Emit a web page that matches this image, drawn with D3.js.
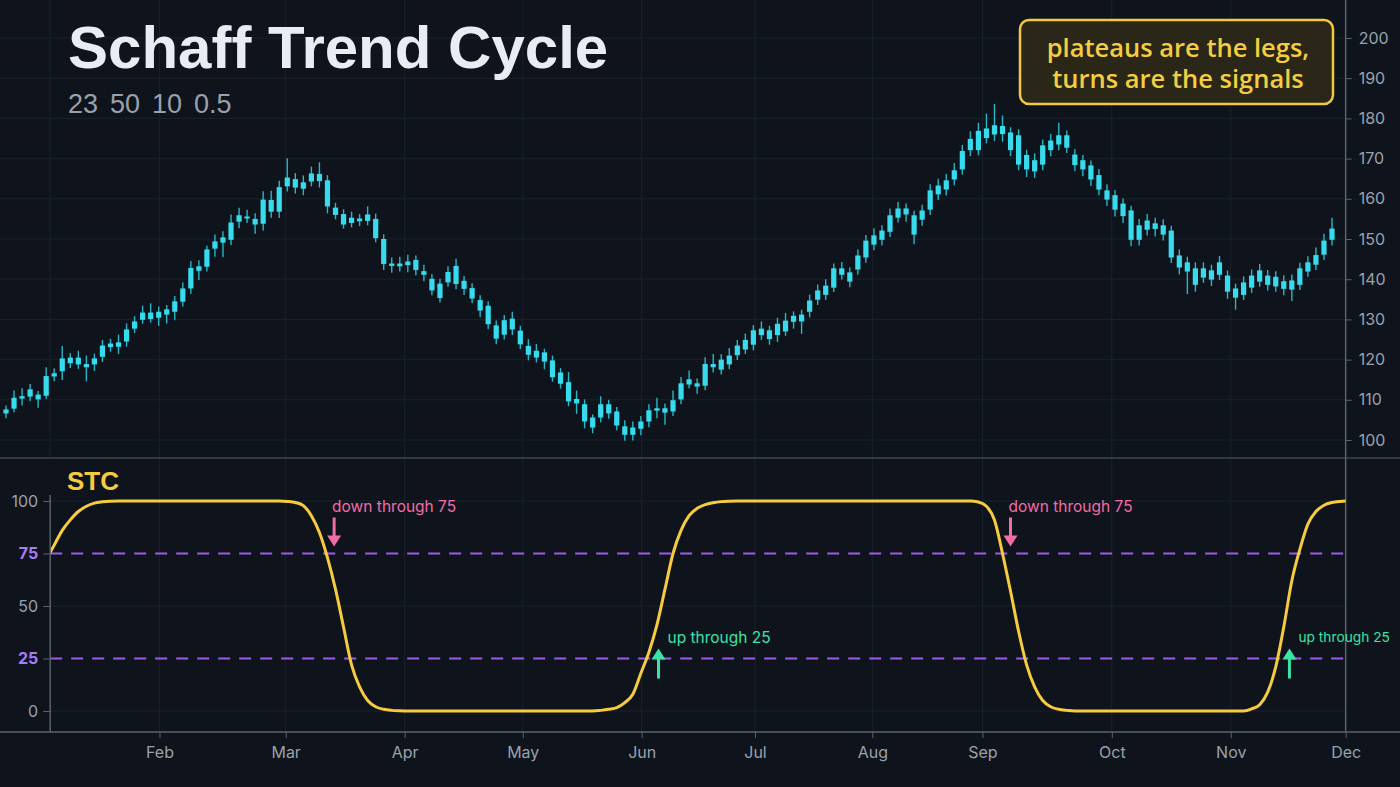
<!DOCTYPE html>
<html><head><meta charset="utf-8">
<script src="https://cdn.jsdelivr.net/npm/d3@7"></script>
<style>html,body{margin:0;padding:0;background:#0f141c;}svg{display:block;}</style>
</head><body>
<svg id="chart" width="1400" height="787"></svg>
<script>
// ---------- DATA ----------
const openP = [
106.6,107.8,110.3,110.8,111.3,111.0,115.8,117.1,119.1,120.5,
118.9,118.8,120.7,123.1,123.2,124.5,127.7,129.9,130.1,130.4,
131.2,131.9,134.4,137.7,142.1,143.1,147.6,149.1,149.8,154.3,
155.1,155.0,153.8,159.7,156.8,163.1,162.8,164.1,164.3,166.2,
164.6,157.8,156.2,154.0,155.1,154.5,155.0,150.0,143.9,143.2,
143.5,144.8,142.0,140.1,138.9,139.2,143.3,139.6,137.8,134.8,
133.4,128.5,126.2,130.2,127.2,123.4,122.2,121.8,119.8,116.8,
114.4,110.2,108.9,105.6,105.6,106.6,107.1,103.4,101.3,102.8,
104.6,107.3,106.8,107.1,110.1,113.8,114.1,113.5,118.1,117.5,
118.8,121.1,122.5,123.7,126.1,127.3,126.1,127.0,129.4,131.2,
131.9,134.9,136.1,137.9,142.7,141.7,142.4,145.4,148.6,149.8,
151.8,155.3,157.6,155.9,154.8,157.3,161.1,162.3,164.8,167.3,
172.1,172.1,175.1,176.0,178.1,176.5,175.8,170.9,166.8,168.5,
172.1,173.5,175.8,171.0,169.6,168.3,165.9,162.1,160.9,158.8,
157.1,149.8,152.3,153.9,151.1,152.1,145.9,144.2,142.7,140.4,
142.2,141.1,140.9,137.7,136.1,137.9,139.4,140.9,138.2,139.5,
137.4,138.6,141.9,143.6,146.1,149.8];
const closeP = [
107.6,110.5,110.9,112.6,110.1,115.9,116.6,120.3,120.5,118.8,
118.1,120.3,123.5,124.0,124.3,127.5,129.5,131.7,131.7,131.9,
132.5,134.5,137.7,142.8,143.2,147.4,149.4,150.4,154.1,155.9,
155.6,153.6,159.8,156.8,162.9,165.3,164.9,162.5,166.3,164.4,
158.1,156.0,153.6,155.3,154.4,156.1,150.2,143.8,143.3,143.9,
144.4,142.3,141.1,137.2,135.3,141.8,138.8,137.6,135.2,132.2,
128.8,125.2,129.8,127.5,123.8,121.2,120.5,119.5,115.6,114.0,
109.6,109.1,104.6,103.1,108.9,108.9,103.6,101.3,103.1,104.6,
107.4,107.9,107.9,109.9,114.1,115.1,113.3,118.9,118.9,120.0,
121.0,123.5,124.9,127.3,127.7,125.1,128.9,129.7,130.9,129.5,
134.7,137.2,138.4,142.7,141.1,139.4,145.9,149.6,150.9,152.1,
155.9,157.6,156.1,151.1,157.1,162.1,163.3,164.6,167.1,171.9,
174.9,176.9,177.5,178.3,176.1,172.1,168.5,167.3,169.6,173.3,
174.5,175.8,172.7,168.4,167.3,164.8,162.3,159.8,157.3,155.7,
149.8,153.4,154.6,152.5,153.4,145.4,142.9,141.9,138.6,142.7,
139.9,144.2,136.9,135.4,139.2,140.9,142.2,138.6,140.6,137.6,
139.7,142.7,144.2,146.0,149.6,152.6];
const highP = [
108.6,112.3,112.9,113.9,112.2,118.1,117.8,123.4,121.6,122.2,
121.0,121.5,124.9,125.2,126.2,129.0,130.8,133.4,134.0,133.2,
133.6,135.8,139.2,144.5,144.7,148.3,151.1,151.9,156.1,157.8,
157.3,156.4,161.9,162.0,164.5,170.1,166.4,165.8,168.0,169.1,
165.9,159.0,157.4,156.8,156.2,158.1,156.3,151.2,145.4,145.6,
146.1,145.9,143.6,141.3,140.1,143.2,145.1,140.8,139.0,136.0,
134.5,129.7,131.1,131.9,128.4,125.1,123.9,122.7,121.0,117.9,
116.9,112.3,110.1,106.4,110.9,110.0,108.2,104.9,104.6,106.0,
108.9,110.5,109.1,112.3,115.7,117.3,115.3,120.6,121.4,121.3,
122.9,124.9,126.5,128.6,129.5,128.4,130.4,131.6,132.0,132.4,
136.2,138.7,140.0,143.9,144.3,142.9,147.4,151.0,152.7,153.4,
157.6,159.2,158.8,157.0,158.5,163.6,165.0,166.2,168.9,173.4,
176.8,178.9,181.2,183.6,180.7,177.8,177.3,172.2,171.3,174.7,
176.1,178.9,177.0,172.4,170.9,169.5,167.4,163.6,162.2,160.1,
158.3,155.0,156.2,155.3,154.9,153.3,147.4,145.6,144.2,144.2,
143.6,145.8,142.2,138.9,140.7,142.4,143.8,142.3,142.0,141.0,
141.2,144.1,145.7,147.9,151.3,155.3];
const lowP = [
105.4,106.9,108.6,109.7,108.0,110.2,114.6,114.9,117.9,117.7,
114.6,117.2,119.4,122.0,121.4,123.2,126.6,128.9,129.2,128.4,
129.0,129.8,133.2,136.4,139.8,141.9,145.6,145.5,148.5,152.7,
154.0,151.3,152.1,155.3,155.2,161.8,161.3,160.9,163.1,162.8,
156.4,154.9,152.6,152.9,153.2,153.4,149.2,142.3,141.6,141.9,
141.7,141.0,139.5,136.0,134.2,138.1,137.5,136.1,134.1,130.6,
127.6,123.8,125.0,126.1,122.6,119.8,119.3,117.6,114.5,112.8,
108.4,106.5,102.9,101.7,104.4,105.3,102.4,99.8,99.9,101.2,
103.2,105.4,103.8,106.0,108.9,112.9,111.5,112.4,116.8,116.3,
117.6,119.9,121.4,122.3,124.9,123.7,124.4,125.9,127.7,126.4,
130.5,133.6,134.8,136.8,139.9,138.0,141.1,144.1,147.2,148.4,
150.5,154.1,154.3,148.7,153.3,156.0,159.7,160.8,163.4,166.0,
170.6,170.8,173.8,174.4,174.2,170.6,167.1,165.4,165.2,167.1,
170.6,172.1,171.4,166.9,165.6,163.2,160.9,158.2,155.6,154.0,
148.2,148.4,150.9,150.6,149.6,144.0,141.2,136.3,136.9,139.1,
138.3,139.8,135.1,132.4,134.8,136.6,138.1,137.2,136.9,136.0,
134.6,137.3,140.6,142.3,144.8,148.4];

// STC values, first value belongs to candle index stcStart
const stcStart = 5;
const stcValues = [
72,79,86,91,95,97.5,99,99.6,99.9,
100,100,100,100,100,100,100,100,100,100,100,100,100,100,100,100,100,100,100,100,100,
99.8,99.3,97.8,93,85,73,58,40,22,11.5,5,2,0.8,0.3,0.1,
0,0,0,0,0,0,0,0,0,0,0,0,0,0,0,0,0,0,0,0,0,0,0,0,
0.3,0.8,1.6,4,8,18,28,41,58,75,86,93,96.5,98.3,99.2,99.7,99.9,
100,100,100,100,100,100,100,100,100,100,100,100,100,100,100,100,100,100,100,100,100,100,100,100,100,100,100,100,100,100,
99.5,97.5,91,75,57,38,22,11.5,5,2,0.8,0.3,
0,0,0,0,0,0,0,0,0,0,0,0,0,0,0,0,0,0,0,0,0,0,
1,3,9,21,40,62,77,89,95,98,99.3,99.8,100];

const monthLabels = ["Feb","Mar","Apr","May","Jun","Jul","Aug","Sep","Oct","Nov","Dec"];
const monthIdx = [19.1,34.8,49.6,64.3,79.1,93.2,107.8,121.5,137.6,152.4,166.7];
const priceTicks = [100,110,120,130,140,150,160,170,180,190,200];
const stcTicks = [0,25,50,75,100];
const stcLevels = [25,75];
const titleText = "Schaff Trend Cycle";
const subtitleText = "23 50 10 0.5";
const noteLines = ["plateaus are the legs,","turns are the signals"];
const signalText = {down:"down through 75", up:"up through 25"};

// ---------- CHART ----------
const W = 1400, H = 787;
const C = {bg:"#0f141c", grid:"#1a212b", axis:"#5a626e", tick:"#98a1ad",
  body:"#36dcee", wick:"#27b6c6", stc:"#f6cc3e", level:"#9d5ce8", levelTxt:"#a77cf4",
  pink:"#f26ca7", green:"#3be3a6", yellow:"#f5cc3f"};
const tickFont = "16px Inter, 'Noto Sans', sans-serif";
const svg = d3.select("#chart");
svg.append("rect").attr("width",W).attr("height",H).attr("fill",C.bg);

const N = closeP.length;
const x = d3.scaleLinear().domain([0, N-1]).range([6, 1332]);
const yP = d3.scaleLinear().domain([100,200]).range([440,38]);
const yS = d3.scaleLinear().domain([0,100]).range([711,501]);
const xLeft = x(stcStart + 0.5);
const xRight = x(monthIdx[monthIdx.length-1]);
const axisY = 732, sepY = 458;

// grid
const g = svg.append("g");
g.selectAll(".hg").data(priceTicks).join("line")
  .attr("x1",0).attr("x2",xRight).attr("y1",d=>yP(d)).attr("y2",d=>yP(d))
  .attr("stroke",C.grid).attr("stroke-width",1);
g.selectAll(".vg").data(monthIdx.slice(0,-1)).join("line")
  .attr("x1",d=>x(d)).attr("x2",d=>x(d)).attr("y1",0).attr("y2",axisY)
  .attr("stroke",C.grid).attr("stroke-width",1);
g.append("line").attr("x1",xLeft).attr("x2",xLeft).attr("y1",0).attr("y2",sepY)
  .attr("stroke",C.grid);
g.selectAll(".sg").data([0,50,100]).join("line")
  .attr("x1",xLeft).attr("x2",xRight).attr("y1",d=>yS(d)).attr("y2",d=>yS(d))
  .attr("stroke",C.grid);

// separator
svg.append("line").attr("x1",0).attr("x2",W).attr("y1",sepY).attr("y2",sepY)
  .attr("stroke","#3e4651").attr("stroke-width",1.5);

// candles
const idx = d3.range(N);
const cg = svg.append("g");
cg.selectAll("line").data(idx).join("line")
  .attr("x1",i=>x(i)).attr("x2",i=>x(i))
  .attr("y1",i=>yP(highP[i])).attr("y2",i=>yP(lowP[i]))
  .attr("stroke",C.wick).attr("stroke-width",1.4);
cg.selectAll("rect").data(idx).join("rect")
  .attr("x",i=>x(i)-2.6).attr("width",5.2)
  .attr("y",i=>yP(Math.max(openP[i],closeP[i])))
  .attr("height",i=>Math.max(1.6, Math.abs(yP(openP[i])-yP(closeP[i]))))
  .attr("fill",C.body);

// right price axis
const ra = svg.append("g").attr("transform",`translate(${xRight},0)`)
  .call(d3.axisRight(yP).tickValues(priceTicks).tickSize(6).tickPadding(7));
ra.select(".domain").remove();
ra.selectAll(".tick line").attr("stroke",C.axis);
ra.selectAll(".tick text").attr("fill",C.tick).style("font",tickFont);
svg.append("line").attr("x1",xRight).attr("x2",xRight).attr("y1",0).attr("y2",axisY)
  .attr("stroke",C.axis).attr("stroke-width",1.5);

// STC levels
svg.selectAll(".lvl").data(stcLevels).join("line")
  .attr("x1",xLeft).attr("x2",xRight).attr("y1",d=>yS(d)).attr("y2",d=>yS(d))
  .attr("stroke",C.level).attr("stroke-width",1.8).attr("stroke-dasharray","12,9");

// STC line
svg.append("clipPath").attr("id","stcClip").append("rect")
  .attr("x",xLeft).attr("y",470).attr("width",xRight-xLeft).attr("height",260);
svg.append("path").datum(stcValues)
  .attr("clip-path","url(#stcClip)")
  .attr("d", d3.line().x((d,i)=>x(stcStart+i)).y(d=>yS(d)).curve(d3.curveMonotoneX))
  .attr("fill","none").attr("stroke",C.stc).attr("stroke-width",3).attr("stroke-linejoin","round");

// left STC axis
const la = svg.append("g").attr("transform",`translate(${xLeft},0)`)
  .call(d3.axisLeft(yS).tickValues(stcTicks).tickSize(7).tickPadding(5));
la.select(".domain").remove();
la.selectAll(".tick line").attr("stroke",C.axis);
la.selectAll(".tick text")
  .attr("fill",d=>stcLevels.includes(d)?C.levelTxt:C.tick)
  .style("font",d=>stcLevels.includes(d)?"bold 16px Inter, 'Noto Sans', sans-serif":tickFont);
svg.append("line").attr("x1",xLeft).attr("x2",xLeft).attr("y1",495).attr("y2",axisY)
  .attr("stroke",C.axis).attr("stroke-width",1.5);

// bottom axis
const ba = svg.append("g").attr("transform",`translate(0,${axisY})`)
  .call(d3.axisBottom(x).tickValues(monthIdx).tickFormat((d,i)=>monthLabels[i]).tickSize(6).tickPadding(9));
ba.select(".domain").remove();
ba.selectAll(".tick line").attr("stroke",C.axis);
ba.selectAll(".tick text").attr("fill",C.tick).style("font",tickFont);
svg.append("line").attr("x1",0).attr("x2",W).attr("y1",axisY).attr("y2",axisY)
  .attr("stroke",C.axis).attr("stroke-width",1.5);

// signals from STC crossings
const signals = [];
for (let i=1;i<stcValues.length;i++){
  const p=stcValues[i-1], c=stcValues[i];
  if (p>=75 && c<75) signals.push({type:"down", idx:stcStart+i-1+(p-75)/(p-c)});
  if (p<25 && c>=25) signals.push({type:"up", idx:stcStart+i-1+(25-p)/(c-p)});
}
signals.forEach(s=>{
  const cx = x(s.idx);
  if (s.type==="down"){
    const ax = cx+8, tip = yS(75)-7;
    svg.append("line").attr("x1",ax).attr("x2",ax).attr("y1",tip-29).attr("y2",tip-9)
      .attr("stroke",C.pink).attr("stroke-width",3);
    svg.append("path").attr("d",`M${ax-7},${tip-11}L${ax+7},${tip-11}L${ax},${tip}Z`).attr("fill",C.pink);
    svg.append("text").attr("x",cx+6).attr("y",yS(75)-42).text(signalText.down)
      .attr("fill",C.pink).style("font","15.5px Inter, 'Noto Sans', sans-serif");
  } else {
    const ax = cx+12, tip = yS(25)-10;
    svg.append("line").attr("x1",ax).attr("x2",ax).attr("y1",tip+9).attr("y2",tip+30)
      .attr("stroke",C.green).attr("stroke-width",3);
    svg.append("path").attr("d",`M${ax-7},${tip+11}L${ax+7},${tip+11}L${ax},${tip}Z`).attr("fill",C.green);
    const t = svg.append("text").attr("x",cx+21).attr("y",yS(25)-16).text(signalText.up)
      .attr("fill",C.green).style("font","15.5px Inter, 'Noto Sans', sans-serif");
    const w = t.node().getComputedTextLength();
    const maxW = W - 10 - (cx+21);
    if (w > maxW) t.style("font",`${15.5*maxW/w}px Inter, 'Noto Sans', sans-serif`).attr("y",yS(25)-17);
  }
});

// STC label
svg.append("text").attr("x",67).attr("y",490).text("STC")
  .attr("fill",C.yellow).style("font","bold 26px 'Liberation Sans', Arial, sans-serif");

// title
svg.append("text").attr("x",68).attr("y",68).text(titleText)
  .attr("fill","#e9edf3").style("font","bold 60px 'Liberation Sans', Arial, sans-serif");
svg.append("text").attr("x",68).attr("y",113).text(subtitleText)
  .attr("fill","#98a1ad").style("font","27px 'Liberation Sans', Arial, sans-serif")
  .style("word-spacing","4.5px");

// note box
svg.append("rect").attr("x",1020).attr("y",20).attr("width",313).attr("height",84).attr("rx",9)
  .attr("fill","#2a2718").attr("stroke","#f1c83e").attr("stroke-width",2.5);
svg.selectAll(".note").data(noteLines).join("text")
  .attr("x",1178).attr("y",(d,i)=>57+i*31).attr("text-anchor","middle").text(d=>d)
  .attr("fill","#f5cd40").style("font","600 25.5px 'Open Sans', 'Noto Sans', sans-serif");
</script>
</body></html>
